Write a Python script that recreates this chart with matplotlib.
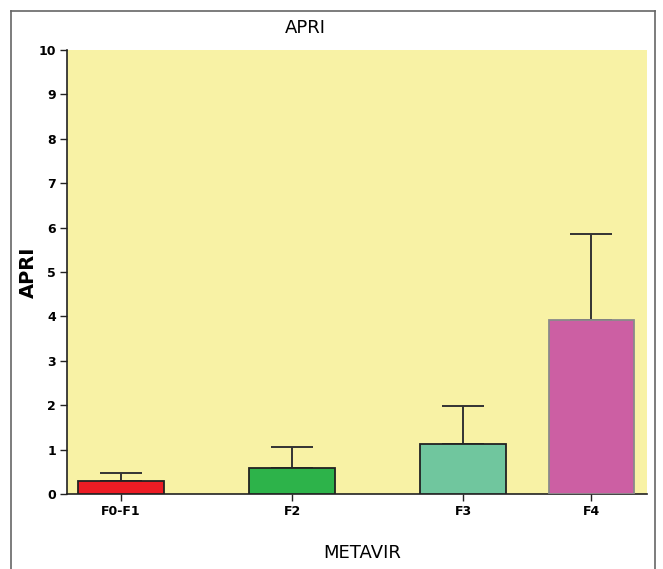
import matplotlib.pyplot as plt
import numpy as np
from matplotlib.lines import Line2D

categories = ["F0-F1", "F2", "F3", "F4"]
positions = [0, 1, 2, 2.75]
means = [0.29, 0.585, 1.13, 3.92]
upper = [0.47, 1.06, 1.99, 5.85]
colors = ["#ED1C24", "#2DB34A", "#70C69E", "#CC5FA3"]
edges = ["#222222", "#222222", "#222222", "#8a8a8a"]

fig = plt.figure(figsize=(6.63, 5.69), dpi=100)
ax = fig.add_axes([67/663, 75/569, 580/663, 444/569])
ax.set_facecolor("#F8F2A5")

err = np.array(upper) - np.array(means)
ax.bar(positions, means, width=0.5, color=colors, edgecolor=edges, linewidth=1.3, zorder=3)
ax.errorbar(positions, means, yerr=[np.zeros(len(err)), err], fmt="none",
            ecolor="#333333", elinewidth=1.4, capsize=15, capthick=1.4, zorder=2)

ax.set_xlim(-0.316, 3.076)
ax.set_ylim(0, 10)
ax.set_yticks(range(0, 11))
ax.set_xticks(positions)
ax.set_xticklabels(categories, fontweight="bold", fontsize=9)
for t in ax.get_yticklabels():
    t.set_fontweight("bold")
    t.set_fontsize(9)
ax.tick_params(length=5, width=1, color="#222222", pad=3)
for s in ["top", "right"]:
    ax.spines[s].set_visible(False)
for s in ["left", "bottom"]:
    ax.spines[s].set_color("#222222")
    ax.spines[s].set_linewidth(1.2)

ax.set_ylabel("APRI", fontweight="bold", fontsize=14)
ax.yaxis.set_label_coords(-0.05, 0.5)
fig.text(0.46, 1 - 28/569, "APRI", ha="center", va="center", fontsize=13)
fig.text(0.546, 1 - 553/569, "METAVIR", ha="center", va="center", fontsize=13)

# outer frame
fc = "#666666"
fig.add_artist(Line2D([11/663, 11/663], [0, 1 - 11/569], transform=fig.transFigure, color=fc, lw=1.2))
fig.add_artist(Line2D([11/663, 655/663], [1 - 11/569, 1 - 11/569], transform=fig.transFigure, color=fc, lw=1.2))
fig.add_artist(Line2D([655/663, 655/663], [0, 1 - 11/569], transform=fig.transFigure, color=fc, lw=1.2))

fig.savefig("out.png", dpi=100)
